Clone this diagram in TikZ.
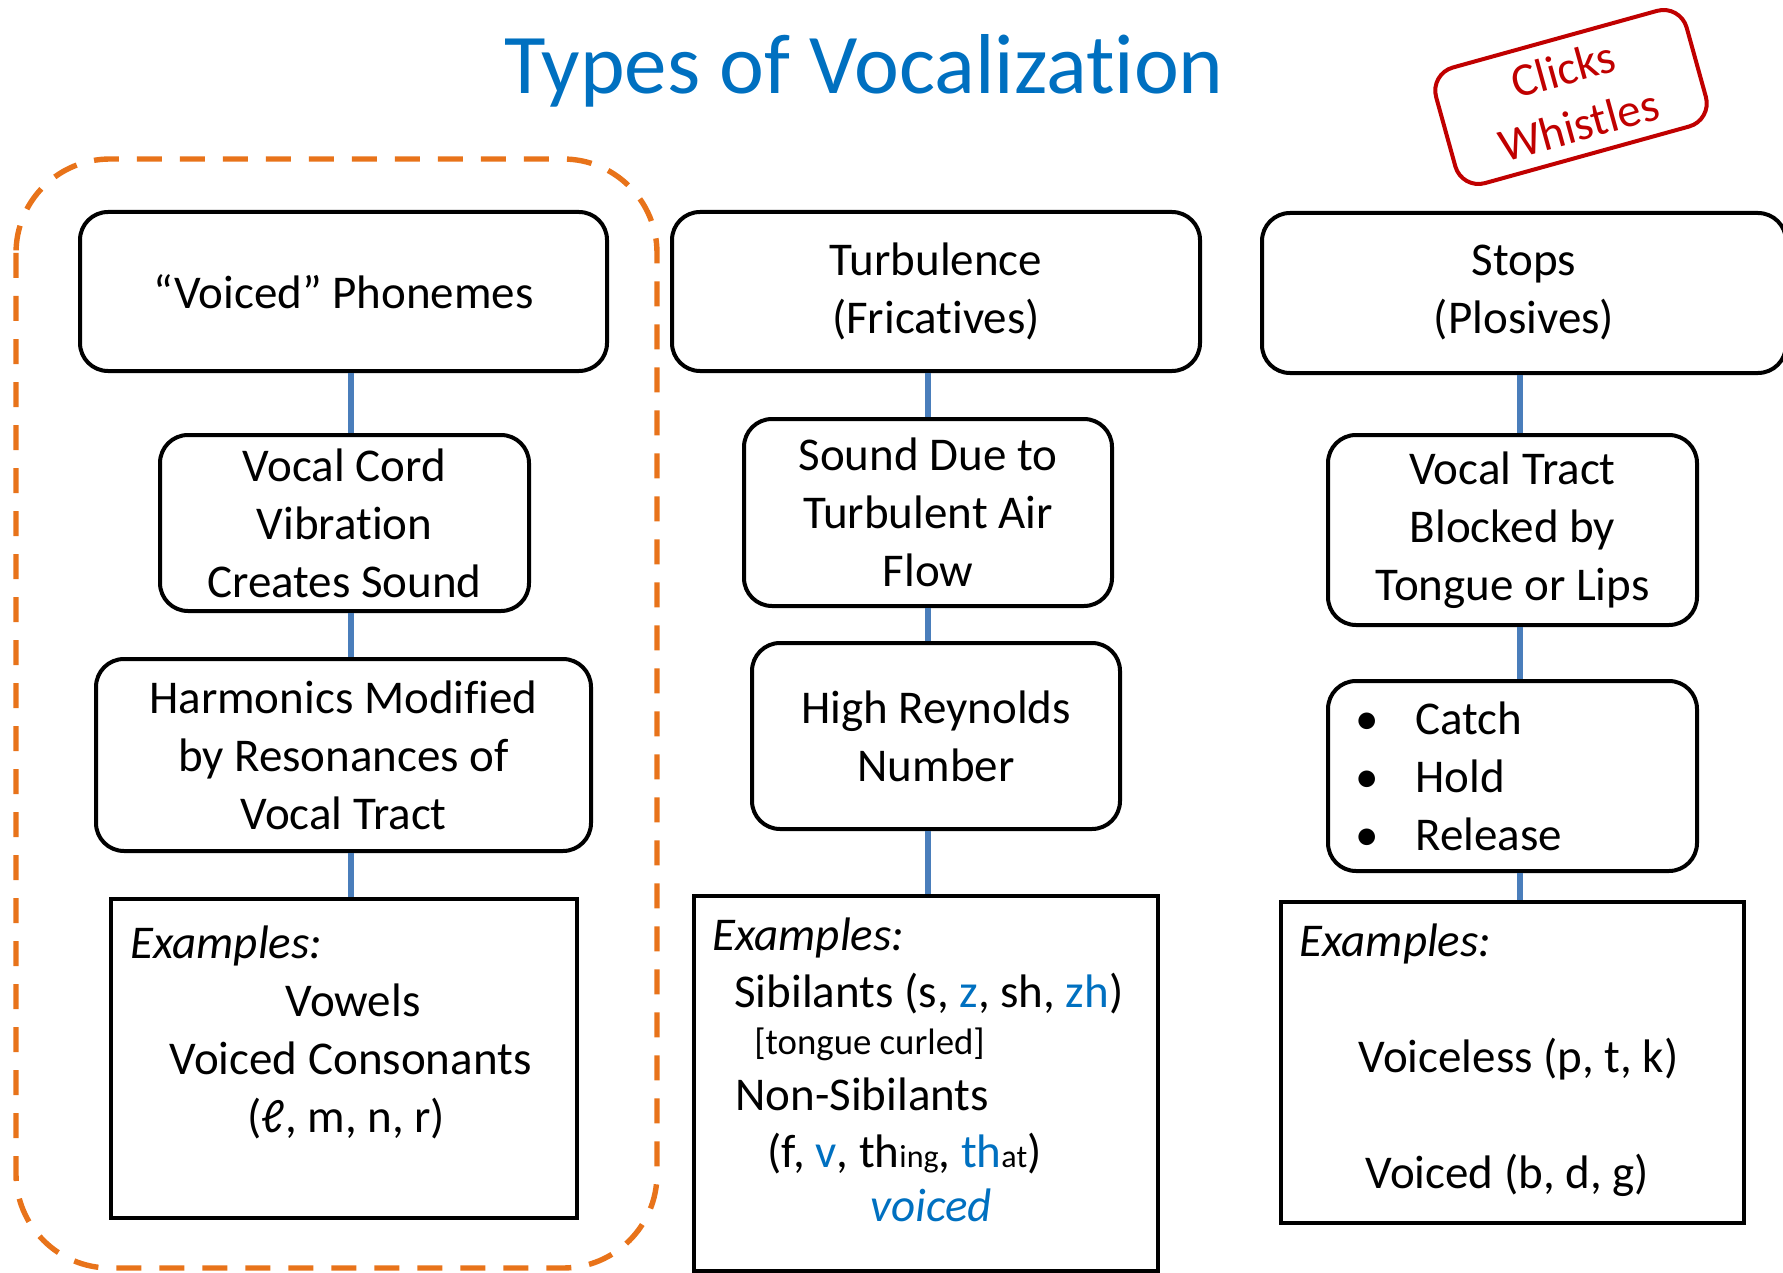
\documentclass[tikz,border=0pt]{standalone}
\usepackage{fontspec}
\setmainfont{Carlito}[Ligatures=NoCommon]
\usepackage{xcolor}

\definecolor{titleblue}{RGB}{0,112,192}
\definecolor{stampred}{RGB}{192,0,0}
\definecolor{linkblue}{RGB}{74,126,187}
\definecolor{dashorange}{RGB}{232,115,26}

\newcommand{\bodyfont}{\fontsize{23.5}{29}\selectfont}
\newcommand{\smallsub}{\fontsize{16}{19}\selectfont}
\newcommand{\bullitem}{\makebox[30pt][l]{\textbullet}}

\tikzset{
  rbox/.style={draw, line width=2pt, rounded corners=14pt, align=center, inner sep=0pt, font=\bodyfont},
  sqbox/.style={draw, line width=2pt, inner sep=0pt},
  extext/.style={anchor=north west, align=left, inner sep=0pt, font=\bodyfont},
  link/.style={linkblue, line width=3pt},
}

\begin{document}
\begin{tikzpicture}[x=0.5pt,y=0.5pt]
\useasboundingbox (0,0) rectangle (1783,-1273);

% voiced column group
\draw[dashorange, line width=2.7pt, dash pattern=on 12.5pt off 9pt, rounded corners=47pt] (16,-159) rectangle (657,-1268);

\node[font=\fontsize{42.5}{50}\selectfont, text=titleblue, anchor=base] (title) at (864,-94) {Types of Vocalization};
\node[draw=stampred, text=stampred, line width=2pt, rounded corners=12pt, rotate=15.5, minimum width=130pt, minimum height=60pt, align=center, font=\bodyfont, inner sep=0pt] (stamp) at (1571,-97) {Clicks\\Whistles};

% left column
\node[rbox, minimum width=263.5pt, minimum height=79.5pt] (b1) at (343.5,-291.5) {“Voiced” Phonemes};
\node[rbox, minimum width=184.5pt, minimum height=88pt] (b2) at (344.5,-523) {Vocal Cord\\Vibration\\Creates Sound};
\node[rbox, minimum width=247.5pt, minimum height=96pt] (b3) at (343.5,-755) {Harmonics Modified\\by Resonances of\\Vocal Tract};
\node[sqbox, minimum width=233pt, minimum height=159.5pt] (b4) at (344,-1058.5) {};
\node[extext] (b4t) at ([shift={(21,-28)}]b4.north west) {\textit{Examples:}\\
\hspace*{77.5pt}Vowels\\
\hspace*{19.5pt}Voiced Consonants\\
\hspace*{58.5pt}(ℓ, m, n, r)};

% middle column
\node[rbox, minimum width=264pt, minimum height=79.5pt] (m1) at (936,-291.5) {Turbulence\\(Fricatives)};
\node[rbox, minimum width=184pt, minimum height=93.5pt] (m2) at (928,-512.5) {Sound Due to\\Turbulent Air\\Flow};
\node[rbox, minimum width=184pt, minimum height=93pt] (m3) at (936,-736) {High Reynolds\\Number};
\node[sqbox, minimum width=232pt, minimum height=187.5pt] (m4) at (926,-1083.5) {};
\node[extext] (m4t) at ([shift={(20,-23)}]m4.north west) {\textit{Examples:}\\[-0.5pt]
\hspace*{11pt}Sibilants (s, \textcolor{titleblue}{z}, sh, \textcolor{titleblue}{zh})\\[-5.5pt]
\hspace*{21pt}{\fontsize{18.4}{22}\selectfont [tongue curled]}\\[-1pt]
\hspace*{11.5pt}Non-Sibilants\\[-0.5pt]
\hspace*{27.5pt}(f, \textcolor{titleblue}{v}, th{\smallsub ing}, \textcolor{titleblue}{th}{\smallsub at})\\[-2pt]
\hspace*{79pt}\textcolor{titleblue}{\textit{voiced}}};

% right column
\node[rbox, minimum width=262pt, minimum height=80pt] (r1) at (1524,-293) {Stops\\(Plosives)};
\node[rbox, minimum width=184.5pt, minimum height=95pt] (r2) at (1512.5,-530) {Vocal Tract\\Blocked by\\Tongue or Lips};
\node[rbox, minimum width=184.5pt, minimum height=95pt, text width=157pt, align=left] (r3) at (1512.5,-776) {\bullitem Catch\\\bullitem Hold\\\bullitem Release};
\node[sqbox, minimum width=231.5pt, minimum height=160.5pt] (r4) at (1512.5,-1062.5) {};
\node[extext] (r4t) at ([shift={(20,-23)}]r4.north west) {\textit{Examples:}\\[29pt]
\hspace*{29.5pt}Voiceless (p, t, k)\\[29pt]
\hspace*{33pt}Voiced (b, d, g)};

% connectors
\coordinate (lcol) at (351,0);
\coordinate (mcol) at (928,0);
\coordinate (rcol) at (1520,0);
\draw[link] (b1.south -| lcol) -- (b2.north -| lcol);
\draw[link] (b2.south -| lcol) -- (b3.north -| lcol);
\draw[link] (b3.south -| lcol) -- (b4.north -| lcol);
\draw[link] (m1.south -| mcol) -- (m2.north -| mcol);
\draw[link] (m2.south -| mcol) -- (m3.north -| mcol);
\draw[link] (m3.south -| mcol) -- (m4.north -| mcol);
\draw[link] (r1.south -| rcol) -- (r2.north -| rcol);
\draw[link] (r2.south -| rcol) -- (r3.north -| rcol);
\draw[link] (r3.south -| rcol) -- (r4.north -| rcol);
\end{tikzpicture}
\end{document}
